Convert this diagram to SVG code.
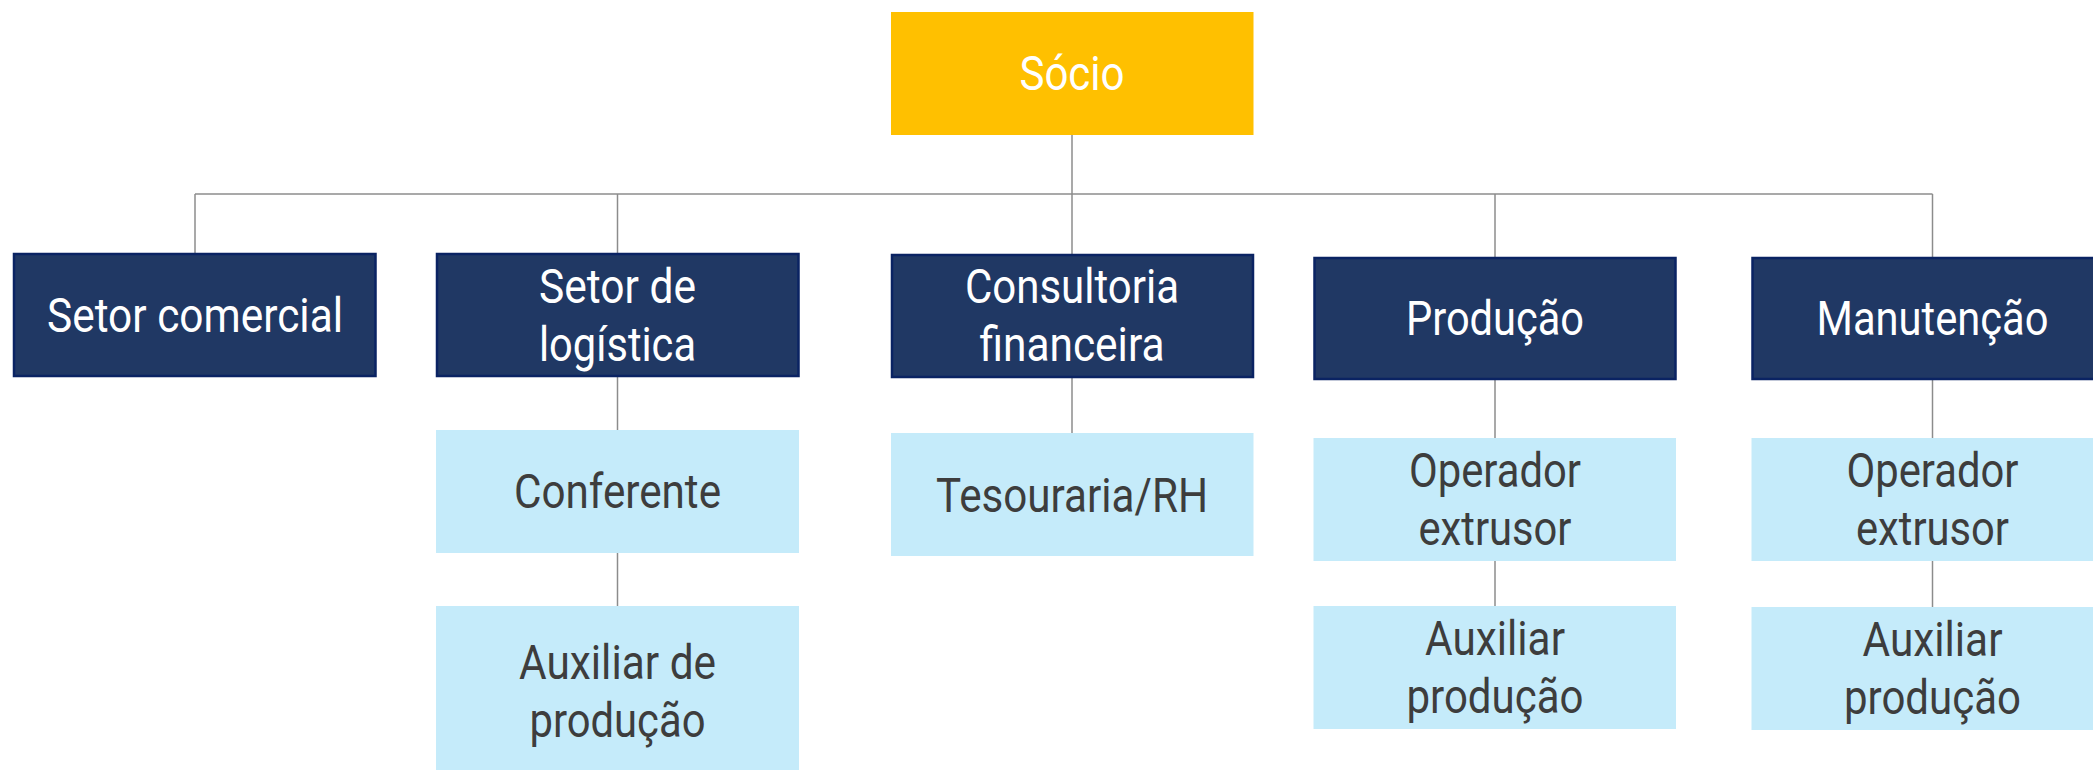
<svg xmlns="http://www.w3.org/2000/svg" width="2093" height="770" viewBox="0 0 2093 770">
<style>
  .navy { fill: #203864; stroke: #0A2363; stroke-width: 2.5; }
  .gold { fill: #FFC000; }
  .light { fill: #C5EBFA; }
  .t { font-family: Roboto, "Liberation Sans", sans-serif; font-size: 48px; text-anchor: middle; }
  .w { fill: #FFFFFF; }
  .d { fill: #3D3D3D; }
  .conn { stroke: #8C8C8C; stroke-width: 1.5; fill: none; }
</style>
<rect width="2093" height="770" fill="#FFFFFF"/>
<g id="connectors">
  <path class="conn" d="M1072 135 V194"/>
  <path class="conn" d="M195 194 H1932.5"/>
  <path class="conn" d="M195 194 V253"/>
  <path class="conn" d="M617.5 194 V253"/>
  <path class="conn" d="M1072 194 V254"/>
  <path class="conn" d="M1495 194 V257"/>
  <path class="conn" d="M1932.5 194 V257"/>
  <path class="conn" d="M617.5 376 V430"/>
  <path class="conn" d="M617.5 553 V606"/>
  <path class="conn" d="M1072 377 V433"/>
  <path class="conn" d="M1495 379 V438"/>
  <path class="conn" d="M1495 561 V606"/>
  <path class="conn" d="M1932.5 379 V438"/>
  <path class="conn" d="M1932.5 561 V607"/>
</g>
<g id="socio">
  <rect class="gold" x="891" y="12" width="362.5" height="123"/>
  <text class="t w" x="1072" y="90" textLength="105" lengthAdjust="spacingAndGlyphs">Sócio</text>
</g>
<g id="setor-comercial">
  <rect class="navy" x="14" y="254" width="361.5" height="122"/>
  <text class="t w" x="195" y="332" textLength="296" lengthAdjust="spacingAndGlyphs">Setor comercial</text>
</g>
<g id="setor-logistica">
  <rect class="navy" x="437" y="254" width="361.5" height="122"/>
  <text class="t w" x="617.5" y="303" textLength="157" lengthAdjust="spacingAndGlyphs">Setor de</text>
  <text class="t w" x="617.5" y="361" textLength="157" lengthAdjust="spacingAndGlyphs">logística</text>
</g>
<g id="consultoria">
  <rect class="navy" x="892" y="255" width="361" height="122"/>
  <text class="t w" x="1072" y="303" textLength="214" lengthAdjust="spacingAndGlyphs">Consultoria</text>
  <text class="t w" x="1072" y="361" textLength="185" lengthAdjust="spacingAndGlyphs">financeira</text>
</g>
<g id="producao">
  <rect class="navy" x="1314.5" y="258" width="361" height="121"/>
  <text class="t w" x="1495" y="335" textLength="178" lengthAdjust="spacingAndGlyphs">Produção</text>
</g>
<g id="manutencao">
  <rect class="navy" x="1752.5" y="258" width="361" height="121"/>
  <text class="t w" x="1932.5" y="335" textLength="232" lengthAdjust="spacingAndGlyphs">Manutenção</text>
</g>
<g id="conferente">
  <rect class="light" x="436" y="430" width="363" height="123"/>
  <text class="t d" x="617.5" y="508" textLength="207" lengthAdjust="spacingAndGlyphs">Conferente</text>
</g>
<g id="auxiliar-de-producao">
  <rect class="light" x="436" y="606" width="363" height="164"/>
  <text class="t d" x="617.5" y="679" textLength="197" lengthAdjust="spacingAndGlyphs">Auxiliar de</text>
  <text class="t d" x="617.5" y="737" textLength="176" lengthAdjust="spacingAndGlyphs">produção</text>
</g>
<g id="tesouraria">
  <rect class="light" x="891" y="433" width="362.5" height="123"/>
  <text class="t d" x="1072" y="512" textLength="272" lengthAdjust="spacingAndGlyphs">Tesouraria/RH</text>
</g>
<g id="operador-extrusor-1">
  <rect class="light" x="1313.5" y="438" width="362.5" height="123"/>
  <text class="t d" x="1495" y="487" textLength="172" lengthAdjust="spacingAndGlyphs">Operador</text>
  <text class="t d" x="1495" y="545" textLength="153" lengthAdjust="spacingAndGlyphs">extrusor</text>
</g>
<g id="auxiliar-producao-1">
  <rect class="light" x="1313.5" y="606" width="362.5" height="123"/>
  <text class="t d" x="1495" y="655" textLength="140" lengthAdjust="spacingAndGlyphs">Auxiliar</text>
  <text class="t d" x="1495" y="713" textLength="177" lengthAdjust="spacingAndGlyphs">produção</text>
</g>
<g id="operador-extrusor-2">
  <rect class="light" x="1751.5" y="438" width="362.5" height="123"/>
  <text class="t d" x="1932.5" y="487" textLength="172" lengthAdjust="spacingAndGlyphs">Operador</text>
  <text class="t d" x="1932.5" y="545" textLength="153" lengthAdjust="spacingAndGlyphs">extrusor</text>
</g>
<g id="auxiliar-producao-2">
  <rect class="light" x="1751.5" y="607" width="362.5" height="123"/>
  <text class="t d" x="1932.5" y="656" textLength="140" lengthAdjust="spacingAndGlyphs">Auxiliar</text>
  <text class="t d" x="1932.5" y="714" textLength="177" lengthAdjust="spacingAndGlyphs">produção</text>
</g>
</svg>
